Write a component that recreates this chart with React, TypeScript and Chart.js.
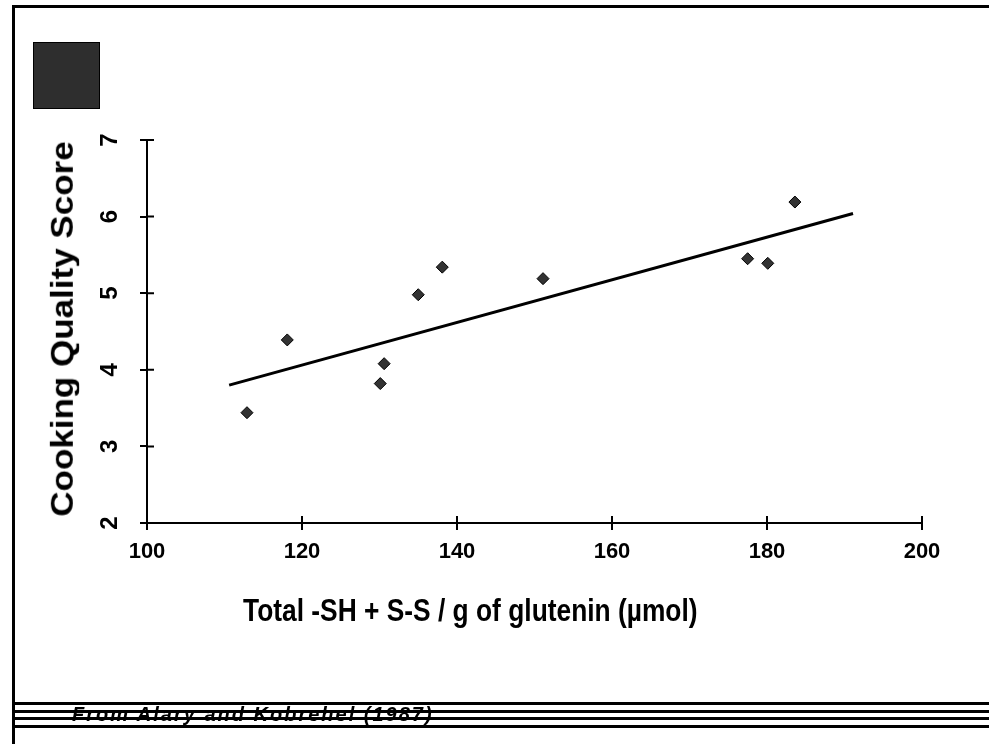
import React, { useEffect, useRef } from "react";
import { Chart, registerables } from "chart.js";

Chart.register(...registerables);

// Observed samples: total -SH + S-S per g glutenin (µmol) vs cooking quality score
const thiolTotals = [112.9, 118.1, 130.1, 130.6, 135.0, 138.1, 151.1, 177.5, 180.1, 183.6];
const qualityScores = [3.44, 4.39, 3.82, 4.08, 4.98, 5.34, 5.19, 5.45, 5.39, 6.19];

// Regression line end points
const fitX = [110.6, 191.1];
const fitY = [3.8, 6.04];

// Axis ranges / tick steps
const xRange = [100, 200];
const xStep = 20;
const yRange = [2, 7];
const yStep = 1;

const xTitle = "Total -SH + S-S / g of glutenin (\u00b5mol)";
const yTitle = "Cooking Quality Score";
const sourceNote = "From Alary and Kobrehel (1987)";

const innerTicks = {
  id: "innerTicks",
  afterDraw(chart: any) {
    const { ctx, chartArea, scales } = chart;
    const x = scales.x;
    const y = scales.y;
    ctx.save();
    ctx.strokeStyle = "#000";
    ctx.lineWidth = 2;
    ctx.beginPath();
    x.ticks.forEach((t: any) => {
      const px = x.getPixelForValue(t.value);
      ctx.moveTo(px, chartArea.bottom);
      ctx.lineTo(px, chartArea.bottom - 7);
    });
    y.ticks.forEach((t: any) => {
      const py = y.getPixelForValue(t.value);
      ctx.moveTo(chartArea.left, py);
      ctx.lineTo(chartArea.left + 7, py);
    });
    ctx.stroke();
    ctx.restore();
  },
};

export default function App() {
  const canvasRef = useRef<HTMLCanvasElement | null>(null);

  useEffect(() => {
    if (!canvasRef.current) return;
    const points = thiolTotals.map((v, i) => ({ x: v, y: qualityScores[i] }));
    const fit = fitX.map((v, i) => ({ x: v, y: fitY[i] }));
    const chart = new Chart(canvasRef.current, {
      type: "scatter",
      data: {
        datasets: [
          {
            label: "samples",
            data: points,
            pointStyle: "rectRot",
            pointRadius: 6,
            pointBackgroundColor: "#333333",
            pointBorderColor: "#000000",
            pointBorderWidth: 1,
            showLine: false,
          },
          {
            label: "fit",
            type: "line",
            data: fit,
            showLine: true,
            borderColor: "#000000",
            borderWidth: 3,
            pointRadius: 0,
            fill: false,
          },
        ],
      },
      options: {
        responsive: false,
        animation: false,
        devicePixelRatio: 1,
        layout: { padding: { left: 40, top: 140, right: 67, bottom: 181 } },
        plugins: {
          legend: { display: false },
          tooltip: { enabled: false },
          title: { display: false },
        },
        scales: {
          x: {
            type: "linear",
            min: xRange[0],
            max: xRange[1],
            ticks: {
              stepSize: xStep,
              color: "#000",
              padding: 9,
              font: { family: "'Liberation Sans', Arial, sans-serif", size: 22, weight: "bold" },
            },
            grid: { drawOnChartArea: false, tickLength: 7, color: "#000", lineWidth: 2 },
            border: { color: "#000", width: 2 },
            afterFit: (s: any) => {
              s.height = 40;
            },
          },
          y: {
            type: "linear",
            min: yRange[0],
            max: yRange[1],
            ticks: {
              stepSize: yStep,
              color: "#000",
              padding: 23,
              minRotation: 90,
              maxRotation: 90,
              crossAlign: "center",
              font: { family: "'Liberation Sans', Arial, sans-serif", size: 24, weight: "bold" },
            },
            grid: { drawOnChartArea: false, tickLength: 7, color: "#000", lineWidth: 2 },
            border: { color: "#000", width: 2 },
            afterFit: (s: any) => {
              s.width = 107;
            },
          },
        },
      },
      plugins: [innerTicks],
    } as any);
    return () => chart.destroy();
  }, []);

  const line = (top: number) => (
    <div style={{ position: "absolute", left: 15, top, width: 974, height: 3, background: "#000" }} />
  );

  return (
    <div
      style={{
        position: "absolute",
        left: 0,
        top: 0,
        width: 989,
        height: 744,
        background: "#fff",
        overflow: "hidden",
        fontFamily: "'Liberation Sans', Arial, sans-serif",
      }}
    >
      <canvas ref={canvasRef} width={989} height={744} style={{ position: "absolute", left: 0, top: 0 }} />
      {/* slide frame */}
      <div style={{ position: "absolute", left: 12, top: 5, width: 3, height: 739, background: "#000" }} />
      <div style={{ position: "absolute", left: 12, top: 5, width: 977, height: 3, background: "#000" }} />
      {/* dark square */}
      <div
        style={{
          position: "absolute",
          left: 33,
          top: 42,
          width: 67,
          height: 67,
          background: "#2e2e2e",
          border: "1px solid #000",
          boxSizing: "border-box",
        }}
      />
      {/* y title */}
      <div
        style={{
          position: "absolute",
          left: 62,
          top: 329,
          transform: "translate(-50%, -50%) rotate(-90deg) scaleY(0.88)",
          fontSize: 35,
          lineHeight: "35px",
          fontWeight: "bold",
          whiteSpace: "nowrap",
          color: "#000",
        }}
      >
        {yTitle}
      </div>
      {/* x title */}
      <div
        style={{
          position: "absolute",
          left: 243,
          top: 595,
          transform: "scaleX(0.85)",
          transformOrigin: "left top",
          fontSize: 31,
          lineHeight: "31px",
          fontWeight: "bold",
          whiteSpace: "nowrap",
          color: "#000",
        }}
      >
        {xTitle}
      </div>
      {/* footer rules */}
      {line(702)}
      {line(710)}
      {line(717)}
      {line(725)}
      <div
        style={{
          position: "absolute",
          left: 72,
          top: 704,
          fontSize: 20,
          lineHeight: "20px",
          fontStyle: "italic",
          fontWeight: "bold",
          letterSpacing: "2px",
          whiteSpace: "nowrap",
          color: "#000",
        }}
      >
        {sourceNote}
      </div>
    </div>
  );
}
